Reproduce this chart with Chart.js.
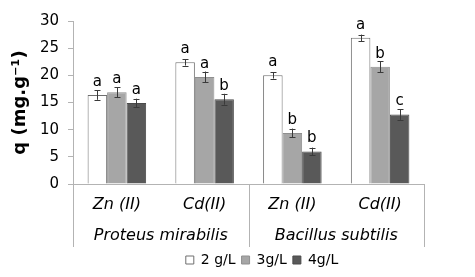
<!DOCTYPE html>
<html>
<head>
<meta charset="utf-8">
<script src="https://cdn.jsdelivr.net/npm/chart.js@4.4.1/dist/chart.umd.min.js"></script>
<style>
  html, body { margin: 0; padding: 0; background: #fff; }
  #wrap { width: 475px; height: 277px; }
</style>
</head>
<body>
<div id="wrap"><canvas id="chart"></canvas></div>
<script>
const metals = ['Zn (II)', 'Cd(II)', 'Zn (II)', 'Cd(II)'];
const bacteria = ['Proteus mirabilis', 'Bacillus subtilis'];
const seriesNames = ['2 g/L', '3g/L', '4g/L'];
const q2 = [16.4, 22.4, 20.0, 26.9];
const q3 = [16.9, 19.7, 9.4, 21.6];
const q4 = [14.9, 15.6, 6.0, 12.8];
const err2 = [0.9, 0.6, 0.6, 0.6];
const err3 = [0.9, 1.0, 0.8, 1.0];
const err4 = [0.8, 1.0, 0.7, 1.0];
const letters2 = ['a', 'a', 'a', 'a'];
const letters3 = ['a', 'a', 'b', 'b'];
const letters4 = ['a', 'b', 'b', 'c'];

const FONT = 'DejaVu Sans, Verdana, sans-serif';
const AXIS = '#b3b3b3';

// error bars and significance letters on top of each bar
const errorBars = {
  id: 'errorBars',
  afterDatasetsDraw(chart) {
    const ctx = chart.ctx;
    const y = chart.scales.y;
    ctx.save();
    chart.data.datasets.forEach(function(ds, i) {
      const meta = chart.getDatasetMeta(i);
      meta.data.forEach(function(bar, j) {
        const v = ds.data[j];
        const e = ds.errors[j];
        const top = y.getPixelForValue(v + e);
        const bot = y.getPixelForValue(v - e);
        const cx = Math.round(bar.x) + 0.5;
        ctx.strokeStyle = '#3a3a3a';
        ctx.lineWidth = 1;
        ctx.beginPath();
        ctx.moveTo(cx, top);
        ctx.lineTo(cx, bot);
        ctx.moveTo(cx - 3, Math.round(top) + 0.5);
        ctx.lineTo(cx + 3, Math.round(top) + 0.5);
        ctx.moveTo(cx - 3, Math.round(bot) + 0.5);
        ctx.lineTo(cx + 3, Math.round(bot) + 0.5);
        ctx.stroke();

        ctx.fillStyle = '#000';
        ctx.font = '15px ' + FONT;
        ctx.textAlign = 'center';
        ctx.textBaseline = 'alphabetic';
        ctx.fillText(ds.letters[j], bar.x, y.getPixelForValue(v) - 9);
      });
    });
    ctx.restore();
  }
};

// vertical separators of the two-level category axis
const groupLines = {
  id: 'groupLines',
  afterDraw(chart) {
    const ctx = chart.ctx;
    const x = chart.scales.x;
    const x2 = chart.scales.x2;
    const mid = (x.getPixelForValue(1) + x.getPixelForValue(2)) / 2;
    const xs = [x.left, mid, x.right];
    ctx.save();
    ctx.strokeStyle = AXIS;
    ctx.lineWidth = 1;
    xs.forEach(function(px) {
      ctx.beginPath();
      ctx.moveTo(Math.round(px) + 0.5, chart.chartArea.bottom);
      ctx.lineTo(Math.round(px) + 0.5, x2.bottom);
      ctx.stroke();
    });
    ctx.restore();
  }
};

const shiftLegend = {
  id: 'shiftLegend',
  afterLayout(chart) {
    chart.legend.left += 50;
    chart.legend.right += 50;
  }
};

new Chart(document.getElementById('chart'), {
  type: 'bar',
  data: {
    labels: metals,
    datasets: [
      { label: seriesNames[0], data: q2, errors: err2, letters: letters2,
        backgroundColor: '#ffffff', borderColor: '#6e6e6e', borderWidth: 1 },
      { label: seriesNames[1], data: q3, errors: err3, letters: letters3,
        backgroundColor: '#a6a6a6', borderColor: '#8f8f8f', borderWidth: 1 },
      { label: seriesNames[2], data: q4, errors: err4, letters: letters4,
        backgroundColor: '#595959', borderColor: '#4a4a4a', borderWidth: 1 }
    ]
  },
  options: {
    responsive: true,
    maintainAspectRatio: false,
    animation: false,
    categoryPercentage: 0.667,
    barPercentage: 1.0,
    layout: { padding: { top: 21, right: 51, bottom: 0, left: 0 } },
    plugins: {
      legend: {
        position: 'bottom',
        labels: {
          boxWidth: 8, boxHeight: 8, padding: 6,
          color: '#000', font: { family: FONT, size: 14 }
        }
      },
      tooltip: { enabled: false }
    },
    scales: {
      x: {
        type: 'category',
        labels: metals,
        grid: { display: false, drawTicks: false },
        border: { display: true, color: AXIS },
        ticks: { color: '#000', padding: 11, font: { family: FONT, size: 16, style: 'italic' } },
        afterFit(scale) { scale.height = 30; }
      },
      x2: {
        type: 'category',
        labels: bacteria,
        position: 'bottom',
        grid: { display: false, drawTicks: false },
        border: { display: false },
        ticks: { color: '#000', padding: 12, font: { family: FONT, size: 16, style: 'italic' } },
        afterFit(scale) { scale.height = 33; }
      },
      y: {
        min: 0,
        max: 30,
        ticks: { stepSize: 5, color: '#000', padding: 9, font: { family: FONT, size: 15 } },
        grid: { drawOnChartArea: false, drawTicks: true, tickLength: 5, color: AXIS },
        border: { display: true, color: AXIS },
        title: { display: true, text: 'q (mg.g⁻¹)', color: '#000',
                 font: { family: FONT, size: 18, weight: 'bold' }, padding: { top: 10, bottom: 0 } },
        afterFit(scale) { scale.width = 73; }
      }
    }
  },
  plugins: [errorBars, groupLines, shiftLegend]
});
</script>
</body>
</html>
